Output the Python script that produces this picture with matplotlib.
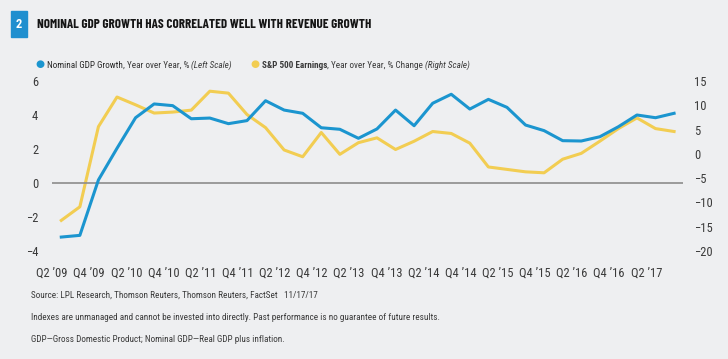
import matplotlib
matplotlib.use("Agg")
import matplotlib.pyplot as plt
from matplotlib.patches import Rectangle

# quarters Q2 '09 .. Q3 '17
quarters = list(range(34))
gdp_growth = [-3.18, -3.08, 0.18, 2.04, 3.84, 4.65, 4.55, 3.78, 3.82, 3.49,
              3.67, 4.84, 4.29, 4.10, 3.25, 3.16, 2.63, 3.18, 4.29, 3.37,
              4.69, 5.22, 4.35, 4.92, 4.45, 3.41, 3.08, 2.49, 2.47, 2.72,
              3.31, 4.00, 3.84, 4.10]
sp500_earnings = [-13.7, -10.9, 5.6, 11.7, 10.1, 8.4, 8.6, 9.0, 12.9, 12.5,
                  8.1, 5.4, 0.8, -0.6, 4.4, -0.1, 2.3, 3.3, 0.9, 2.6,
                  4.6, 4.2, 2.2, -2.7, -3.2, -3.7, -3.9, -1.1, 0.1, 2.6,
                  5.2, 7.4, 5.2, 4.6]
tick_labels = ["Q2 ’09", "Q4 ’09", "Q2 ’10", "Q4 ’10", "Q2 ’11", "Q4 ’11",
               "Q2 ’12", "Q4 ’12", "Q2 ’13", "Q4 ’13", "Q2 ’14", "Q4 ’14",
               "Q2 ’15", "Q4 ’15", "Q2 ’16", "Q4 ’16", "Q2 ’17"]
left_ticks = [-4, -2, 0, 2, 4, 6]
right_ticks = [-20, -15, -10, -5, 0, 5, 10, 15]

BG = "#eeeff1"
BLUE = "#1b95cf"
YELLOW = "#f2cd52"
TEXT = "#3a3a3a"
TITLE_FONT = ["Barlow Condensed", "Roboto Condensed", "Liberation Sans", "DejaVu Sans"]
plt.rcParams["font.family"] = ["Roboto Condensed", "Liberation Sans", "DejaVu Sans"]

fig = plt.figure(figsize=(7.28, 3.59), dpi=100, facecolor=BG)
ax = fig.add_axes([52 / 728, 108 / 359, 631 / 728, 170 / 359])
ax2 = ax.twinx()

ax2.plot(quarters, sp500_earnings, color=YELLOW, lw=2.2)
ax.plot(quarters, gdp_growth, color=BLUE, lw=2.2, zorder=5)
ax.set_zorder(ax2.get_zorder() + 1)
ax.patch.set_visible(False)
ax2.patch.set_facecolor(BG)

ax.axhline(0, color="#8c8c8c", lw=1.2, zorder=1)
ax.set_xlim(-0.48, 33.48)
ax.set_ylim(-4, 6)
ax2.set_ylim(-20, 15)
ax.set_yticks(left_ticks)
ax2.set_yticks(right_ticks)
ax.set_xticks([q - 0.5 for q in quarters[::2]])
ax.set_xticklabels(tick_labels)

for a in (ax, ax2):
    for s in a.spines.values():
        s.set_visible(False)
    a.tick_params(length=0, labelsize=9, labelcolor=TEXT)
ax.tick_params(axis="y", pad=10)
ax2.tick_params(axis="y", pad=8)
ax.tick_params(axis="x", pad=11)

# header
fig.patches.append(Rectangle((11 / 728, 1 - 37 / 359), 16 / 728, 26 / 359,
                             transform=fig.transFigure, color="#1f8fcf"))
fig.text(19 / 728, 1 - 24 / 359, "2", color="white", fontsize=9,
         fontweight="bold", ha="center", va="center")
title = fig.text(37 / 728, 1 - 25 / 359,
                 "NOMINAL GDP GROWTH HAS CORRELATED WELL WITH REVENUE GROWTH",
                 fontsize=11, fontweight="bold", color="#151515", va="center",
                 family=TITLE_FONT)


def chained(x, y, parts, size=7.5):
    items = []
    for txt, kw in parts:
        style = {"color": TEXT, **kw}
        if not items:
            t = fig.text(x / 728, 1 - y / 359, txt, fontsize=size,
                         va="baseline", **style)
        else:
            t = ax.annotate(txt, xy=(1, 0), xycoords=items[-1], fontsize=size,
                            va="bottom", ha="left", annotation_clip=False,
                            **style)
        items.append(t)
    return items


# legend
fig.text(35 / 728, 1 - 67.5 / 359, "●", color=BLUE, fontsize=7.5,
         va="baseline", family=["DejaVu Sans"])
leg1 = chained(47, 68, [("Nominal GDP Growth", {"color": "#2a2a2a"}),
                        (", Year over Year, % ", {}),
                        ("(Left Scale)", {"style": "italic"})])
fig.text(250 / 728, 1 - 67.5 / 359, "●", color=YELLOW, fontsize=7.5,
         va="baseline", family=["DejaVu Sans"])
leg2 = chained(262, 68, [("S&P 500 Earnings", {"fontweight": "bold"}),
                         (", Year over Year, % Change ", {}),
                         ("(Right Scale)", {"style": "italic"})])

# footer
foot1 = fig.text(31 / 728, 1 - 298 / 359,
                 "Source: LPL Research, Thomson Reuters, Thomson Reuters, FactSet   11/17/17",
                 fontsize=7.5, color=TEXT, va="baseline")
foot2 = fig.text(31 / 728, 1 - 320 / 359,
                 "Indexes are unmanaged and cannot be invested into directly. "
                 "Past performance is no guarantee of future results.",
                 fontsize=7.5, color=TEXT, va="baseline")
foot3 = fig.text(31 / 728, 1 - 342 / 359,
                 "GDP\u2014Gross Domestic Product; Nominal GDP\u2014Real GDP plus inflation.",
                 fontsize=7.5, color=TEXT, va="baseline")

# scale text groups towards the reference widths, without shrinking too far
fig.canvas.draw()
renderer = fig.canvas.get_renderer()
for group, target, floor in [([title], 330, 0.6), (leg1, 179, 0.88),
                             (leg2, 198, 0.88), ([foot1], 256, 0.88),
                             ([foot2], 368, 0.88), ([foot3], 239, 0.88)]:
    x0 = group[0].get_window_extent(renderer).x0
    x1 = group[-1].get_window_extent(renderer).x1
    factor = max(min(target / (x1 - x0), 1.25), floor)
    for t in group:
        t.set_fontsize(t.get_fontsize() * factor)

fig.savefig("out.png", dpi=100, facecolor=BG)
